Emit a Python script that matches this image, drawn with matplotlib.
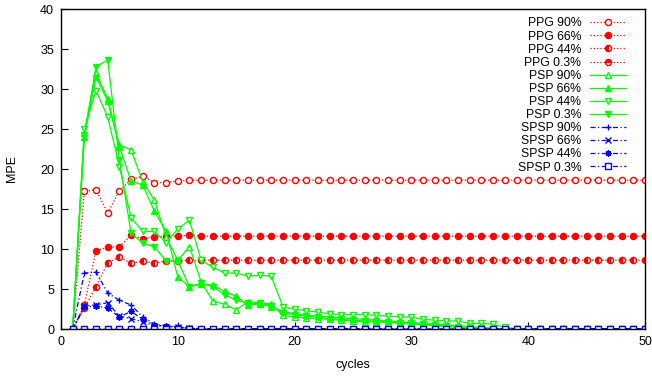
import matplotlib
matplotlib.use("Agg")
import matplotlib.pyplot as plt

plt.rcParams['font.family'] = ['Liberation Sans', 'DejaVu Sans']

cycles = list(range(1, 51))

ppg_90 = [0.0, 17.2, 17.4, 14.5, 17.3, 18.7, 19.1, 18.3, 18.3, 18.5,
          18.6, 18.6, 18.6, 18.6, 18.6, 18.6, 18.6, 18.6, 18.6, 18.6,
          18.6, 18.6, 18.6, 18.6, 18.6, 18.6, 18.6, 18.6, 18.6, 18.6,
          18.6, 18.6, 18.6, 18.6, 18.6, 18.6, 18.6, 18.6, 18.6, 18.6,
          18.6, 18.6, 18.6, 18.6, 18.6, 18.6, 18.6, 18.6, 18.6, 18.6]
ppg_66 = [0.0, 3.0, 9.8, 10.2, 10.3, 11.7, 11.3, 11.5, 11.6, 11.6,
          11.75, 11.6, 11.6, 11.6, 11.6, 11.6, 11.6, 11.6, 11.6, 11.6,
          11.6, 11.6, 11.6, 11.6, 11.6, 11.6, 11.6, 11.6, 11.6, 11.6,
          11.6, 11.6, 11.6, 11.6, 11.6, 11.6, 11.6, 11.6, 11.6, 11.6,
          11.6, 11.6, 11.6, 11.6, 11.6, 11.6, 11.6, 11.6, 11.6, 11.6]
ppg_44 = [0.0, 2.6, 5.3, 8.3, 9.0, 8.2, 8.5, 8.2, 8.5, 8.5,
          8.6, 8.6, 8.6, 8.6, 8.6, 8.6, 8.6, 8.6, 8.6, 8.6,
          8.6, 8.6, 8.6, 8.6, 8.6, 8.6, 8.6, 8.6, 8.6, 8.6,
          8.6, 8.6, 8.6, 8.6, 8.6, 8.6, 8.6, 8.6, 8.6, 8.6,
          8.6, 8.6, 8.6, 8.6, 8.6, 8.6, 8.6, 8.6, 8.6, 8.6]
ppg_03 = [0.0, 0.0, 0.0, 0.0, 0.0, 0.0, 0.0, 0.0, 0.0, 0.0,
          0.0, 0.0, 0.0, 0.0, 0.0, 0.0, 0.0, 0.0, 0.0, 0.0,
          0.0, 0.0, 0.0, 0.0, 0.0, 0.0, 0.0, 0.0, 0.0, 0.0,
          0.0, 0.0, 0.0, 0.0, 0.0, 0.0, 0.0, 0.0, 0.0, 0.0,
          0.0, 0.0, 0.0, 0.0, 0.0, 0.0, 0.0, 0.0, 0.0, 0.0]

psp_90 = [0.0, 24.5, 32.0, 28.8, 23.0, 22.4, 18.4, 16.1, 11.5, 8.6,
          10.3, 5.9, 3.5, 3.1, 2.4, 3.4, 3.3, 3.1, 1.7, 1.5,
          1.4, 1.3, 1.2, 1.1, 1.0, 0.9, 0.9, 0.8, 0.7, 0.6,
          0.5, 0.4, 0.3, 0.2, 0.1, 0.05, 0.0, 0.0, 0.0, 0.0,
          0.0, 0.0, 0.0, 0.0, 0.0, 0.0, 0.0, 0.0, 0.0, 0.0]
psp_66 = [0.0, 24.0, 31.5, 28.5, 22.8, 18.5, 18.0, 14.7, 12.2, 6.5,
          5.3, 5.6, 5.5, 4.7, 4.1, 3.0, 3.1, 2.8, 2.2, 1.9,
          1.7, 1.6, 1.5, 1.4, 1.3, 1.2, 1.1, 1.0, 0.9, 0.8,
          0.7, 0.6, 0.5, 0.4, 0.3, 0.2, 0.1, 0.0, 0.0, 0.0,
          0.0, 0.0, 0.0, 0.0, 0.0, 0.0, 0.0, 0.0, 0.0, 0.0]
psp_44 = [0.0, 25.0, 29.8, 26.5, 20.3, 13.9, 12.2, 12.2, 10.8, 12.5,
          13.6, 8.6, 7.7, 7.0, 7.0, 6.6, 6.7, 6.6, 2.8, 2.45,
          2.3, 2.1, 1.9, 1.8, 1.8, 1.8, 1.7, 1.6, 1.5, 1.5,
          1.2, 1.1, 1.0, 1.0, 0.7, 0.7, 0.6, 0.2, 0.05, 0.0,
          0.0, 0.0, 0.0, 0.0, 0.0, 0.0, 0.0, 0.0, 0.0, 0.0]
psp_03 = [0.0, 24.2, 32.8, 33.6, 21.1, 12.0, 10.7, 10.3, 8.5, 8.5,
          5.3, 5.7, 5.3, 4.3, 3.6, 3.2, 3.2, 2.9, 2.0, 1.8,
          1.6, 1.5, 1.3, 1.2, 1.1, 1.0, 1.0, 0.9, 0.8, 0.7,
          0.6, 0.5, 0.4, 0.3, 0.2, 0.1, 0.0, 0.0, 0.0, 0.0,
          0.0, 0.0, 0.0, 0.0, 0.0, 0.0, 0.0, 0.0, 0.0, 0.0]

spsp_90 = [0.0, 7.0, 7.1, 4.5, 3.6, 3.0, 1.5, 0.6, 0.4, 0.3,
           0.1, 0.05, 0.0, 0.0, 0.0, 0.0, 0.0, 0.0, 0.0, 0.0,
           0.0, 0.0, 0.0, 0.0, 0.0, 0.0, 0.0, 0.0, 0.0, 0.0,
           0.0, 0.0, 0.0, 0.0, 0.0, 0.0, 0.0, 0.0, 0.0, 0.0,
           0.0, 0.0, 0.0, 0.0, 0.0, 0.0, 0.0, 0.0, 0.0, 0.0]
spsp_66 = [0.0, 2.9, 3.0, 3.3, 1.6, 1.3, 0.9, 0.4, 0.3, 0.2,
           0.1, 0.0, 0.0, 0.0, 0.0, 0.0, 0.0, 0.0, 0.0, 0.0,
           0.0, 0.0, 0.0, 0.0, 0.0, 0.0, 0.0, 0.0, 0.0, 0.0,
           0.0, 0.0, 0.0, 0.0, 0.0, 0.0, 0.0, 0.0, 0.0, 0.0,
           0.0, 0.0, 0.0, 0.0, 0.0, 0.0, 0.0, 0.0, 0.0, 0.0]
spsp_44 = [0.0, 2.7, 2.9, 2.6, 1.5, 2.2, 1.2, 0.5, 0.35, 0.25,
           0.1, 0.0, 0.0, 0.0, 0.0, 0.0, 0.0, 0.0, 0.0, 0.0,
           0.0, 0.0, 0.0, 0.0, 0.0, 0.0, 0.0, 0.0, 0.0, 0.0,
           0.0, 0.0, 0.0, 0.0, 0.0, 0.0, 0.0, 0.0, 0.0, 0.0,
           0.0, 0.0, 0.0, 0.0, 0.0, 0.0, 0.0, 0.0, 0.0, 0.0]
spsp_03 = [0.0, 0.0, 0.0, 0.0, 0.0, 0.0, 0.0, 0.0, 0.0, 0.0,
           0.0, 0.0, 0.0, 0.0, 0.0, 0.0, 0.0, 0.0, 0.0, 0.0,
           0.0, 0.0, 0.0, 0.0, 0.0, 0.0, 0.0, 0.0, 0.0, 0.0,
           0.0, 0.0, 0.0, 0.0, 0.0, 0.0, 0.0, 0.0, 0.0, 0.0,
           0.0, 0.0, 0.0, 0.0, 0.0, 0.0, 0.0, 0.0, 0.0, 0.0]

x_ticks = [0, 10, 20, 30, 40, 50]
y_ticks = [0, 5, 10, 15, 20, 25, 30, 35, 40]

RED, GREEN, BLUE = '#ff0000', '#00ff00', '#0000ff'
MS = 4.4
DASHDOT = (0, (4, 2, 1, 2))

series = [
    ("PPG 90%", ppg_90, RED, ':', dict(marker='o', mfc='white', mec=RED)),
    ("PPG 66%", ppg_66, RED, ':', dict(marker='o', mfc=RED, mec=RED)),
    ("PPG 44%", ppg_44, RED, ':', dict(marker='o', fillstyle='left', mfc=RED,
                                      mfcalt='white', mec=RED)),
    ("PPG 0.3%", ppg_03, RED, ':', dict(marker='o', fillstyle='top', mfc=RED,
                                       mfcalt='white', mec=RED)),
    ("PSP 90%", psp_90, GREEN, '-', dict(marker='^', mfc='white', mec=GREEN)),
    ("PSP 66%", psp_66, GREEN, '-', dict(marker='^', mfc=GREEN, mec=GREEN)),
    ("PSP 44%", psp_44, GREEN, '-', dict(marker='v', mfc='white', mec=GREEN)),
    ("PSP 0.3%", psp_03, GREEN, '-', dict(marker='v', mfc=GREEN, mec=GREEN)),
    ("SPSP 90%", spsp_90, BLUE, DASHDOT, dict(marker='+', mec=BLUE)),
    ("SPSP 66%", spsp_66, BLUE, DASHDOT, dict(marker='x', mec=BLUE)),
    ("SPSP 44%", spsp_44, BLUE, DASHDOT, dict(marker=(8, 2, 0), mec=BLUE)),
    ("SPSP 0.3%", spsp_03, BLUE, DASHDOT, dict(marker='s', mfc='white', mec=BLUE)),
]

fig = plt.figure(figsize=(6.52, 3.77), dpi=100)
ax = fig.add_axes([61 / 652, 48 / 377, 584 / 652, 320 / 377])

for label, vals, color, ls, mk in series:
    ax.plot(cycles, vals, color=color, linestyle=ls, linewidth=0.9,
            markersize=MS, markeredgewidth=1.0, label=label, **mk)

ax.set_xlim(0, 50)
ax.set_ylim(0, 40)
ax.set_xticks(x_ticks)
ax.set_yticks(y_ticks)
ax.tick_params(direction='in', length=5, width=0.8, labelsize=9, pad=5,
               colors='black')
for sp in ax.spines.values():
    sp.set_linewidth(1.0)
    sp.set_color('black')

ax.set_xlabel("cycles", fontsize=9, labelpad=8)
ax.set_ylabel("MPE", fontsize=9, labelpad=16)

leg = ax.legend(loc='upper right', bbox_to_anchor=(626 / 652, 1 - 17.5 / 377),
                bbox_transform=fig.transFigure, frameon=False, fontsize=8.8,
                markerfirst=False, handlelength=2.95, handletextpad=0.7,
                labelspacing=0.09, borderpad=0, borderaxespad=0)

fig.savefig("out.png", dpi=100)
